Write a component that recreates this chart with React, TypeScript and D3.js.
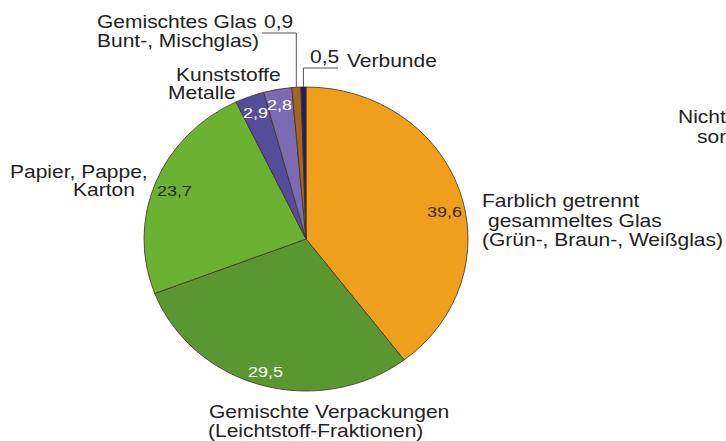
import React from "react";
import * as d3 from "d3";

const categories = [
  "Farblich getrennt gesammeltes Glas",
  "Gemischte Verpackungen",
  "Papier, Pappe, Karton",
  "Kunststoffe",
  "Metalle",
  "Gemischtes Glas",
  "Verbunde",
];
const values = [39.6, 29.5, 23.7, 2.9, 2.8, 0.9, 0.5];
const valueLabels = ["39,6", "29,5", "23,7", "2,9", "2,8", "0,9", "0,5"];
const colors = ["#EF9F1C", "#5B9731", "#6BB232", "#564C9C", "#7B6CB2", "#A5641F", "#231C6B"];
const valueColors = ["#3a2a10", "#ffffff", "#1e2a10", "#ffffff", "#ffffff", "#222", "#222"];

const W = 726, H = 441;
const cx = 306, cy = 239, rx = 162, ry = 152;
const SX = 1.2;
const FONT = "'Liberation Sans', Arial, Helvetica, sans-serif";
const TXT = "#222";

// label layout (positions only)
const nameLabels: { lines: string[]; x: number[]; y: number[] }[] = [
  { lines: ["Farblich getrennt", "gesammeltes Glas", "(Grün-, Braun-, Weißglas)"], x: [482, 488, 482], y: [207, 227, 246] },
  { lines: ["Gemischte Verpackungen", "(Leichtstoff-Fraktionen)"], x: [209, 208], y: [418, 437] },
  { lines: ["Papier, Pappe,", "Karton"], x: [10, 73], y: [178, 196] },
  { lines: ["Kunststoffe", "Metalle"], x: [176, 168], y: [81, 99] },
  { lines: ["Gemischtes Glas", "Bunt-, Mischglas)"], x: [97, 97], y: [28, 47] },
  { lines: ["Verbunde"], x: [347], y: [67] },
  { lines: ["Nicht", "sor"], x: [678, 697], y: [123, 143] },
];
const valuePos = [
  [427, 217], [248, 377], [157, 196], [243, 118], [267, 110], [264, 28], [310, 63],
];
const valueSizes = [15, 15, 15, 15, 15, 17.5, 17.5];

export default function App() {
  const pie = d3.pie<number>().sort(null).startAngle(0).endAngle(2 * Math.PI);
  const arcs = pie(values);
  const arc = d3.arc<d3.PieArcDatum<number>>().innerRadius(0).outerRadius(ry);
  const k = rx / ry;

  const edgePoint = (a: d3.PieArcDatum<number>) => {
    const m = (a.startAngle + a.endAngle) / 2;
    return [cx + rx * Math.sin(m), cy - ry * Math.cos(m)];
  };
  const brown = edgePoint(arcs[5]);
  const navy = edgePoint(arcs[6]);

  const txt = (s: string, x: number, y: number, size: number, fill: string, key: string) => (
    <text key={key} transform={`translate(${x},${y}) scale(${SX},1)`} fontSize={size} fill={fill} fontFamily={FONT}>
      {s}
    </text>
  );

  return (
    <svg width={W} height={H} style={{ position: "absolute", left: 0, top: 0, background: "#fff" }}>
      <g transform={`translate(${cx},${cy}) scale(${k},1)`}>
        {arcs.map((a, i) => (
          <path key={i} d={arc(a) || ""} fill={colors[i]} stroke="#3d3220" strokeWidth={0.8} vectorEffect="non-scaling-stroke" />
        ))}
      </g>
      <polyline points={`262,33 ${brown[0]},33 ${brown[0]},${brown[1]}`} fill="none" stroke="#555" strokeWidth={1} />
      <polyline points={`338,68 ${navy[0]},68 ${navy[0]},${navy[1]}`} fill="none" stroke="#555" strokeWidth={1} />
      {nameLabels.map((l, i) =>
        l.lines.map((s, j) => txt(s, l.x[j], l.y[j], 17.5, TXT, `n${i}-${j}`))
      )}
      {valueLabels.map((v, i) => txt(v, valuePos[i][0], valuePos[i][1], valueSizes[i], valueColors[i], `v${i}`))}
    </svg>
  );
}
